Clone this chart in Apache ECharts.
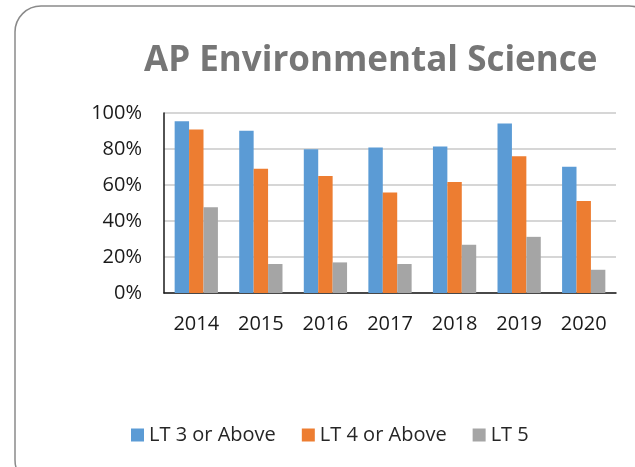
<!DOCTYPE html>
<html>
<head>
<meta charset="utf-8">
<script src="https://cdn.jsdelivr.net/npm/echarts@6/dist/echarts.min.js"></script>
<style>
  html, body { margin: 0; padding: 0; background: #fff; }
  #main { width: 635px; height: 467px; }
</style>
</head>
<body>
<div id="main"></div>
<script>
var years = ['2014', '2015', '2016', '2017', '2018', '2019', '2020'];
var lt3 = [95.4, 90.2, 79.9, 80.8, 81.4, 94.1, 70.1];
var lt4 = [90.8, 69.0, 65.0, 55.9, 61.6, 76.0, 51.1];
var lt5 = [47.6, 16.1, 17.0, 16.1, 26.8, 31.2, 12.9];

var font = 'Open Sans';
var chart = echarts.init(document.getElementById('main'));

var option = {
    backgroundColor: '#fff',
    animation: false,
    // rounded frame, runs off the right and bottom edges
    graphic: [{
        type: 'rect',
        shape: { x: 15, y: 6, width: 640, height: 480, r: 26 },
        style: { fill: 'none', stroke: '#8a8a8a', lineWidth: 1.5 },
        z: -1
    }],
    title: {
        text: 'AP Environmental Science',
        left: 139,
        top: 39,
        textStyle: { fontFamily: font, fontWeight: 'bold', fontSize: 35, color: '#767676' }
    },
    legend: {
        data: ['LT 3 or Above', 'LT 4 or Above', 'LT 5'],
        left: 126,
        top: 420,
        icon: 'rect',
        itemWidth: 13,
        itemHeight: 13,
        itemGap: 26,
        textStyle: { fontFamily: font, fontSize: 20, color: '#262626' }
    },
    grid: { left: 164, right: 19, top: 113, bottom: 174 },
    xAxis: {
        type: 'category',
        data: years,
        axisTick: { show: false },
        axisLine: { lineStyle: { color: '#1a1a1a', width: 1.5 } },
        axisLabel: { fontFamily: font, fontSize: 20, color: '#1a1a1a', margin: 21 }
    },
    yAxis: {
        type: 'value',
        min: 0,
        max: 100,
        interval: 20,
        axisLine: { show: true, lineStyle: { color: '#1a1a1a', width: 1.5 } },
        axisTick: { show: false },
        splitLine: { lineStyle: { color: '#c8c8c8', width: 1.5 } },
        axisLabel: { formatter: '{value}%', fontFamily: font, fontSize: 20, color: '#1a1a1a', margin: 22 }
    },
    series: [
        { name: 'LT 3 or Above', type: 'bar', data: lt3, barGap: 0, barCategoryGap: '33%',
          itemStyle: { color: '#5b9bd5' } },
        { name: 'LT 4 or Above', type: 'bar', data: lt4,
          itemStyle: { color: '#ed7d31' } },
        { name: 'LT 5', type: 'bar', data: lt5,
          itemStyle: { color: '#a5a5a5' } }
    ]
};
chart.setOption(option);
</script>
</body>
</html>
